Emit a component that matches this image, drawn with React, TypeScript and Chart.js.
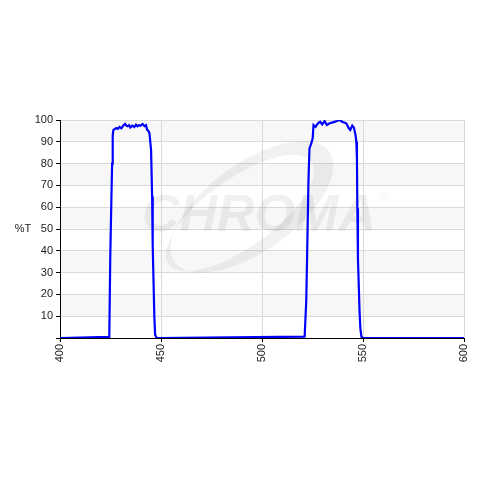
import React, { useEffect, useRef } from "react";
import { Chart, registerables } from "chart.js";

Chart.register(...registerables);

const wavelengthNm = [
  400, 424.4, 424.9, 425.4, 425.8, 426.1, 426.4, 427.0, 427.8, 428.6, 429.4, 430.4,
  431.3, 432.2, 433.0, 433.5, 434.2, 434.8, 435.8, 436.8, 437.6, 438.3, 439.1, 439.8,
  440.9, 441.8, 442.6, 443.1, 443.9, 444.3, 445.1, 445.6, 445.9, 446.4, 446.7, 447.1,
  447.9,
  521.1, 521.9, 522.4, 523.0, 523.5, 524.4, 525.1, 525.5, 526.5, 527.7, 528.8, 529.8,
  531.0, 532.1, 533.5, 535.1, 537.1, 538.4, 539.7, 541.7, 543.0, 543.7, 544.7, 545.5,
  546.3, 546.7, 547.0, 547.2, 547.5, 548.0, 548.3, 548.7, 549.2, 550.0, 600,
];

const transmissionPct = [
  0, 0.5, 38, 62, 80, 93, 95.4, 95.8, 96.3, 95.9, 96.8, 96.2,
  97.4, 98.2, 97.3, 97.1, 97.6, 96.6, 97.4, 96.8, 97.8, 97.1, 97.6, 97.4,
  98.2, 97.2, 97.6, 95.6, 94.8, 93.9, 86, 65, 42, 22, 10, 1.4,
  0,
  0.6, 16.7, 41, 72, 87, 89.3, 91.6, 97.7, 96.9, 98.5, 99.2, 98.0,
  99.5, 97.7, 98.5, 98.9, 99.5, 100, 99.2, 98.5, 96.2, 95.4, 97.4, 96.5,
  93.1, 90, 82.4, 59.5, 36.6, 21.3, 12, 4.4, 0.6, 0, 0,
];

const xTicks = [400, 450, 500, 550, 600];
const yTicks = [10, 20, 30, 40, 50, 60, 70, 80, 90, 100];
const yAxisLabel = "%T";
const watermarkText = "CHROMA";

const FONT = "'Liberation Sans', Arial, sans-serif";

const decorPlugin = {
  id: "decor",
  beforeDraw(chart: any) {
    const { ctx, chartArea } = chart;
    const y = chart.scales.y;
    ctx.save();
    ctx.fillStyle = "#ffffff";
    ctx.fillRect(chartArea.left, chartArea.top, chartArea.right - chartArea.left, chartArea.bottom - chartArea.top);
    ctx.fillStyle = "#f7f7f7";
    for (let v = 10; v < 100; v += 20) {
      const top = y.getPixelForValue(v + 10);
      const bot = y.getPixelForValue(v);
      ctx.fillRect(chartArea.left, top, chartArea.right - chartArea.left, bot - top);
    }
    ctx.restore();
  },
  beforeDatasetsDraw(chart: any) {
    const { ctx, chartArea } = chart;
    const cx = (chartArea.left + chartArea.right) / 2;
    const cy = (chartArea.top + chartArea.bottom) / 2;
    ctx.save();
    // swoosh
    ctx.fillStyle = "rgba(0,0,0,0.055)";
    ctx.beginPath();
    ctx.ellipse(cx - 10, cy - 22, 95, 44, -0.62, 0, Math.PI * 2);
    ctx.ellipse(cx - 22, cy - 16, 88, 34, -0.62, 0, Math.PI * 2);
    ctx.fill("evenodd");
    // text
    ctx.fillStyle = "rgba(0,0,0,0.06)";
    ctx.font = `italic bold 52px ${FONT}`;
    ctx.textAlign = "center";
    ctx.textBaseline = "middle";
    ctx.fillText(watermarkText, cx - 3, cy - 12);
    ctx.font = `12px ${FONT}`;
    ctx.fillText("\u00AE", cx + 122, cy - 30);
    ctx.restore();
  },
  afterDraw(chart: any) {
    const { ctx } = chart;
    const y = chart.scales.y;
    ctx.save();
    ctx.fillStyle = "#222";
    ctx.font = `11px ${FONT}`;
    ctx.textAlign = "center";
    ctx.textBaseline = "middle";
    ctx.fillText(yAxisLabel, 23, y.getPixelForValue(50));
    ctx.restore();
  },
};

export default function App() {
  const ref = useRef<HTMLCanvasElement | null>(null);
  useEffect(() => {
    document.body.style.margin = "0";
    const canvas = ref.current!;
    const chart = new Chart(canvas, {
      type: "line",
      data: {
        datasets: [
          {
            data: wavelengthNm.map((x, i) => ({ x, y: transmissionPct[i] })),
            borderColor: "#0000ff",
            borderWidth: 2.2,
            pointRadius: 0,
            tension: 0,
            fill: false,
          },
        ],
      },
      options: {
        animation: false,
        responsive: false,
        maintainAspectRatio: false,
        layout: { padding: { left: 0, right: 16, top: 120, bottom: 0 } },
        plugins: { legend: { display: false }, tooltip: { enabled: false } },
        scales: {
          x: {
            type: "linear",
            min: 400,
            max: 600,
            afterBuildTicks: (s: any) => {
              s.ticks = xTicks.map((v) => ({ value: v }));
            },
            afterFit: (s: any) => {
              s.height = 142;
            },
            ticks: {
              minRotation: 90,
              maxRotation: 90,
              padding: 2,
              color: "#222",
              font: { family: FONT, size: 11 },
            },
            grid: { color: "#d9d9d9", tickColor: "#000", tickLength: 4, lineWidth: 1 },
            border: { color: "#000", width: 1 },
          },
          y: {
            type: "linear",
            min: 0,
            max: 100,
            afterBuildTicks: (s: any) => {
              s.ticks = [{ value: 0 }, ...yTicks.map((v) => ({ value: v }))];
            },
            afterFit: (s: any) => {
              s.width = 60;
            },
            ticks: {
              padding: 3,
              color: "#222",
              font: { family: FONT, size: 11 },
              callback: (v: any) => (v === 0 ? "" : String(v)),
            },
            grid: { color: "#d9d9d9", tickColor: "#000", tickLength: 4, lineWidth: 1 },
            border: { color: "#000", width: 1 },
          },
        },
      },
      plugins: [decorPlugin],
    });
    return () => chart.destroy();
  }, []);
  return <canvas ref={ref} width={480} height={480} style={{ display: "block" }} />;
}
